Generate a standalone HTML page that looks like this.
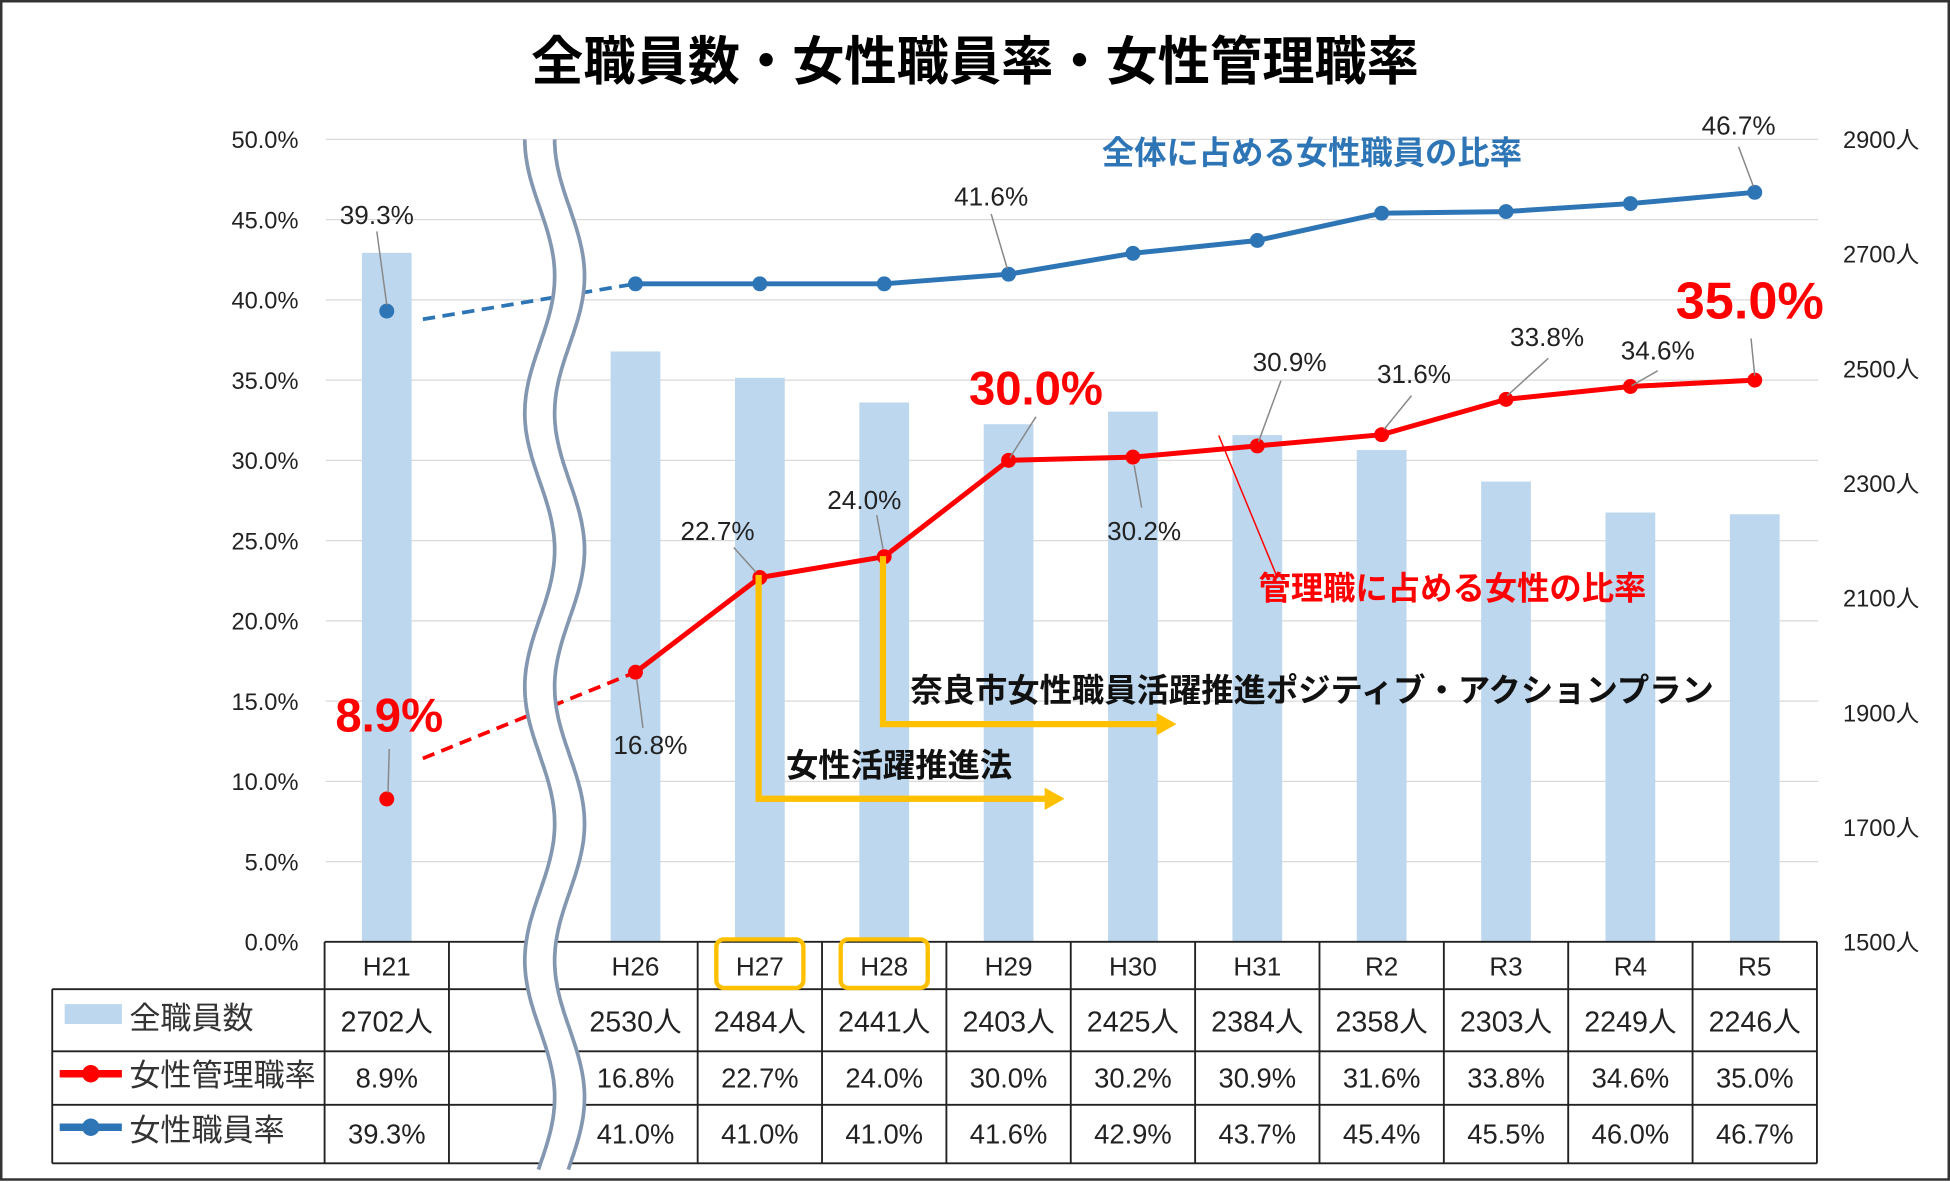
<!DOCTYPE html>
<html><head><meta charset="utf-8"><style>
html,body{margin:0;padding:0;background:#fff;}
svg{display:block;font-family:"Liberation Sans","Noto Sans CJK JP",sans-serif;}
</style></head><body>
<svg id="chart" width="1950" height="1182" viewBox="0 0 1568 950" preserveAspectRatio="none" xmlns="http://www.w3.org/2000/svg"></svg>
<script>
const categories=["H21","","H26","H27","H28","H29","H30","H31","R2","R3","R4","R5"];
const staffCounts=[2702,null,2530,2484,2441,2403,2425,2384,2358,2303,2249,2246];
const managerRates=[8.9,null,16.8,22.7,24.0,30.0,30.2,30.9,31.6,33.8,34.6,35.0];
const womenRates=[39.3,null,41.0,41.0,41.0,41.6,42.9,43.7,45.4,45.5,46.0,46.7];
const leftTicks=[0,5,10,15,20,25,30,35,40,45,50];
const rightTicks=[1500,1700,1900,2100,2300,2500,2700,2900];

const NS="http://www.w3.org/2000/svg";
const svg=document.getElementById('chart');
function el(tag,attrs,parent){const e=document.createElementNS(NS,tag);for(const k in attrs)e.setAttribute(k,attrs[k]);(parent||svg).appendChild(e);return e;}
function txt(x,y,s,attrs){const e=el('text',Object.assign({x:x,y:y},attrs||{}));e.textContent=s;return e;}
const yL=v=>757-v/50*645;
const yR=v=>757-(v-1500)/1400*645;
const xC=i=>311+i*100;

const frame=el('rect',{x:1,y:1,width:1566,height:947,fill:'#fff',stroke:'#333','stroke-width':2});

const title=txt(784,64,'全職員数・女性職員率・女性管理職率',{'font-size':42,'font-weight':'bold','text-anchor':'middle',fill:'#000'});


leftTicks.forEach(t=>{
  if(t>0){const g=el('line',{x1:262,x2:1462,y1:yL(t),y2:yL(t),stroke:'#d9d9d9','stroke-width':1});
  }
  const l=txt(240,yL(t)+7,t.toFixed(1)+'%',{'font-size':19,'text-anchor':'end',fill:'#222'});
  
});
rightTicks.forEach(t=>{
  const l=txt(1482,yR(t)+7,t+'人',{'font-size':19,fill:'#222'});
  
});

staffCounts.forEach((v,i)=>{if(v==null)return;
  const b=el('rect',{x:xC(i)-20,y:yR(v),width:40,height:757-yR(v),fill:'#bdd7ee'});
  
});

function dashed(arr,f,color,name){
  const d=el('line',{x1:340,y1:yL(arr[0]+(arr[2]-arr[0])*f),x2:xC(2),y2:yL(arr[2]),stroke:color,'stroke-width':3,'stroke-dasharray':'10,6'});
  
}
dashed(womenRates,-0.3,'#2e75b6','women-rate-break-line');
dashed(managerRates,0.32,'#ff0000','manager-rate-break-line');

function series(arr,color,name){
  let pts=[];arr.forEach((v,i)=>{if(v!=null&&i>=2)pts.push(xC(i)+','+yL(v));});
  const p=el('polyline',{points:pts.join(' '),fill:'none',stroke:color,'stroke-width':4,'stroke-linejoin':'round'});
  
  arr.forEach((v,i)=>{if(v==null)return;
    const c=el('circle',{cx:xC(i),cy:yL(v),r:6,fill:color});
    });
}
series(womenRates,'#2e75b6','women-rate');
series(managerRates,'#ff0000','manager-rate');

// table
const rows=[757,795,845,888,935];
const tb=el('g',{stroke:'#222','stroke-width':1.5,fill:'none'});

el('line',{x1:261,x2:1461,y1:757,y2:757},tb);
for(let r=1;r<rows.length;r++)el('line',{x1:42,x2:1461,y1:rows[r],y2:rows[r]},tb);
el('line',{x1:42,x2:42,y1:795,y2:935},tb);
for(let i=0;i<=12;i++){if(i==2)continue;const x=261+i*100;el('line',{x1:x,x2:x,y1:757,y2:935},tb);}

// wave break
const HP=110;
function wave(x0){let d='';for(let y=112;y<=942;y+=3){const x=x0-12*Math.cos((y-112)/HP*Math.PI);d+=(y==112?'M':'L')+x.toFixed(1)+','+y;}return d;}
const wf=(()=>{let a=[],b=[];for(let y=112;y<=942;y+=3){const s=-12*Math.cos((y-112)/HP*Math.PI);a.push((434+s).toFixed(1)+','+y);b.unshift((458+s).toFixed(1)+','+y);}return 'M'+a.join(' L')+' L'+b.join(' L')+'Z';})();
const wfill=el('path',{d:wf,fill:'#fff'});

const w1=el('path',{d:wave(434),fill:'none',stroke:'#8497b0','stroke-width':3});

const w2=el('path',{d:wave(458),fill:'none',stroke:'#8497b0','stroke-width':3});


function lab(s,x,y,lx1,ly1,lx2,ly2,opts){
  const l=el('line',{x1:lx1,y1:ly1,x2:lx2,y2:ly2,stroke:'#888','stroke-width':1.2});
  
  const t=txt(x,y,s,Object.assign({'font-size':21,'text-anchor':'middle',fill:'#222'},opts||{}));
  
}
lab(womenRates[0].toFixed(1)+'%',303,180,303,186,311,245);
lab(womenRates[5].toFixed(1)+'%',797,165,797,172,810,216);
lab(womenRates[11].toFixed(1)+'%',1398,108,1398,118,1410,150);
lab(managerRates[3].toFixed(1)+'%',577,434,590,440,608,460);
lab(managerRates[4].toFixed(1)+'%',695,409,705,414,710,441);
lab(managerRates[2].toFixed(1)+'%',523,606,517,585,512,546);
lab(managerRates[6].toFixed(1)+'%',920,434,918,408,912,374);
lab(managerRates[7].toFixed(1)+'%',1037,298,1030,306,1012,355);
lab(managerRates[8].toFixed(1)+'%',1137,308,1135,318,1113,345);
lab(managerRates[9].toFixed(1)+'%',1244,278,1245,288,1212,318);
lab(managerRates[10].toFixed(1)+'%',1333,289,1333,298,1312,310);
const big={'font-size':38,'font-weight':'bold',fill:'#ff0000'};
lab(managerRates[0].toFixed(1)+'%',313,588,313,602,312,637,big);
lab(managerRates[5].toFixed(1)+'%',833,325,833,335,812,368,big);
lab(managerRates[11].toFixed(1)+'%',1407,256,1408,272,1411,302,Object.assign({},big,{'font-size':42}));

const a1=txt(886,132,'全体に占める女性職員の比率',{'font-size':26,'font-weight':'bold',fill:'#2e75b6'});

const rl=el('line',{x1:980,y1:350,x2:1027,y2:464,stroke:'#ff0000','stroke-width':1.2});

const a2=txt(1012,482,'管理職に占める女性の比率',{'font-size':26,'font-weight':'bold',fill:'#ff0000'});


function arrow(x,y1,y2,x2,name){
  const p=el('path',{d:`M${x},${y1} L${x},${y2} L${x2-14},${y2}`,fill:'none',stroke:'#ffc000','stroke-width':5});
  
  const h=el('polygon',{points:`${x2-16},${y2-9} ${x2},${y2} ${x2-16},${y2+9}`,fill:'#ffc000'});
  
}
arrow(610,462,642,856,'law-arrow');
arrow(710,447,582,946,'plan-arrow');
const t1=txt(632,624,'女性活躍推進法',{'font-size':26,'font-weight':'bold',fill:'#111'});

const t2=txt(732,564,'奈良市女性職員活躍推進ポジティブ・アクションプラン',{'font-size':26,'font-weight':'bold',fill:'#111'});


categories.forEach((c,i)=>{if(!c)return;
  const t=txt(xC(i),784,c,{'font-size':21,'text-anchor':'middle',fill:'#222'});
  
  if(staffCounts[i]!=null){const s=txt(xC(i),829,staffCounts[i]+'人',{'font-size':23,'text-anchor':'middle',fill:'#222'});
    }
  if(managerRates[i]!=null){const s=txt(xC(i),874,managerRates[i].toFixed(1)+'%',{'font-size':22,'text-anchor':'middle',fill:'#222'});
    }
  if(womenRates[i]!=null){const s=txt(xC(i),919,womenRates[i].toFixed(1)+'%',{'font-size':22,'text-anchor':'middle',fill:'#222'});
    }
});
[3,4].forEach(i=>{const r=el('rect',{x:xC(i)-35,y:755,width:70,height:39,rx:6,fill:'none',stroke:'#ffc000','stroke-width':3.5});
  });

const lg1=el('rect',{x:52,y:807,width:46,height:16,fill:'#bdd7ee'});

const lt1=txt(104,827,'全職員数',{'font-size':25,fill:'#333'});
const lg2=el('line',{x1:48,x2:98,y1:863,y2:863,stroke:'#ff0000','stroke-width':6});
const lc2=el('circle',{cx:73,cy:863,r:7,fill:'#ff0000'});
const lt2=txt(104,873,'女性管理職率',{'font-size':25,fill:'#333'});
const lg3=el('line',{x1:48,x2:98,y1:906,y2:906,stroke:'#2e75b6','stroke-width':6});
const lc3=el('circle',{cx:73,cy:906,r:7,fill:'#2e75b6'});
const lt3=txt(104,917,'女性職員率',{'font-size':25,fill:'#333'});
</script>
</body></html>
